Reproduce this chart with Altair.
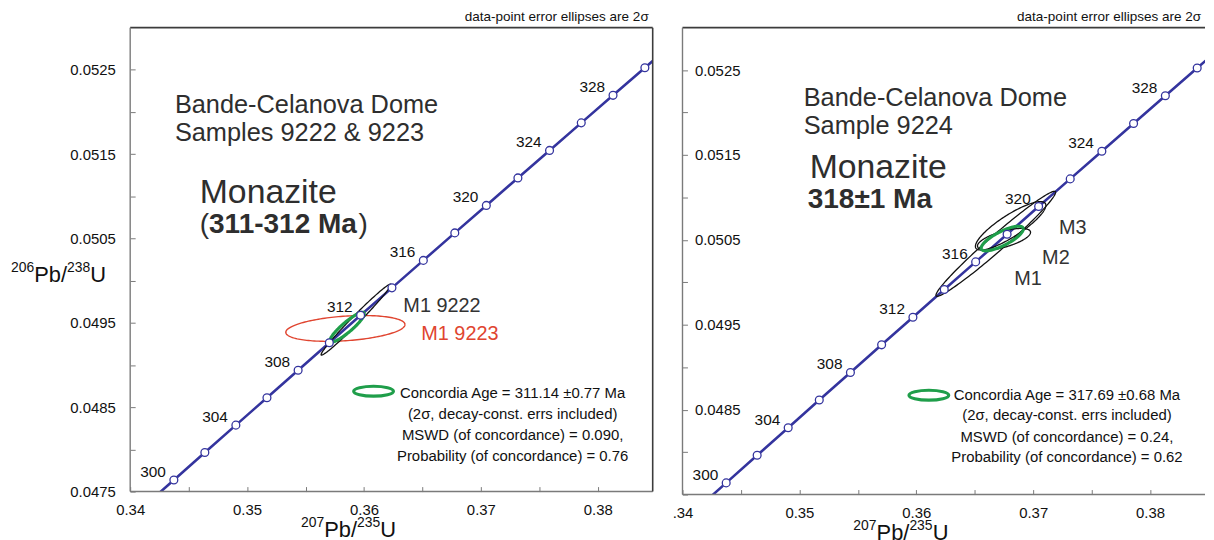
import numpy as np
import pandas as pd
import altair as alt

FONT = "Liberation Sans"
BLUE = "#34349e"
GREEN = "#1f9e4a"
RED = "#e04530"
INK = "#111111"
NOTE = "#2e2e2e"
AXIS = "#7a7a7a"
FRAME = "#3c3c3c"

# Concordia curve, read every 2 Ma (age, 207Pb/235U, 206Pb/238U)
ages = [296, 298, 300, 302, 304, 306, 308, 310, 312, 314, 316, 318, 320, 322, 324, 326, 328, 330, 332, 334]
conc_x = [0.338454, 0.341093, 0.343737, 0.346387, 0.349041, 0.351701, 0.354366, 0.357036, 0.359712, 0.362393,
          0.365079, 0.367770, 0.370467, 0.373169, 0.375876, 0.378589, 0.381307, 0.384031, 0.386760, 0.389493]
conc_y = [0.0469875, 0.0473124, 0.0476374, 0.0479625, 0.0482876, 0.0486130, 0.0489383, 0.0492638, 0.0495894, 0.0499151,
          0.0502408, 0.0505668, 0.0508927, 0.0512186, 0.0515448, 0.0518713, 0.0521977, 0.0525242, 0.0528508, 0.0531775]
label_ages = [300, 304, 308, 312, 316, 320, 324, 328]

x_ticks = [0.34, 0.345, 0.35, 0.355, 0.36, 0.365, 0.37, 0.375, 0.38]
y_ticks = [0.0475, 0.048, 0.0485, 0.049, 0.0495, 0.05, 0.0505, 0.051, 0.0515, 0.052, 0.0525]
X_DOMAIN = [0.34, 0.3847]
Y_DOMAIN = [0.0475, 0.0530]

# Error ellipses (2 sigma): centre, half-width, correlation
left_names = ["M1 9222", "M1 9223", "Concordia age"]
left_cx = [0.359320, 0.358411, 0.358561]
left_ex = [0.002987, 0.005098, 0.001473]
left_cy = [0.049539, 0.049434, 0.049449]
left_ey = [0.000421, 0.000153, 0.000177]
left_rho = [0.987, 0.30, 0.903]

right_names = ["M1", "M2", "M3", "Concordia age"]
right_cx = [0.366800, 0.367504, 0.368073, 0.367353]
right_ex = [0.005118, 0.002271, 0.003014, 0.001798]
right_cy = [0.0504537, 0.0505088, 0.0506658, 0.050516]
right_ey = [0.000618, 0.000126, 0.000285, 0.000145]
right_rho = [0.980, 0.637, 0.848, 0.778]

left_legend = ["Concordia Age = 311.14 \u00b10.77 Ma", "(2\u03c3, decay-const. errs included)",
               "MSWD (of concordance) = 0.090,", "Probability (of concordance) = 0.76"]
right_legend = ["Concordia Age = 317.69 \u00b10.68 Ma", "(2\u03c3, decay-const. errs included)",
                "MSWD (of concordance) = 0.24,", "Probability (of concordance) = 0.62"]

DUMMY = pd.DataFrame({"k": [0]})
ELLIPSE_GLYPH = "M -1 0 A 1 0.25 0 1 0 1 0 A 1 0.25 0 1 0 -1 0 Z"


def ellipse_df(names, cx, ex, cy, ey, rho, n=160):
    t = np.linspace(0.0, 2.0 * np.pi, n + 1)
    frames = []
    for nm, a, sa, b, sb, r in zip(names, cx, ex, cy, ey, rho):
        frames.append(pd.DataFrame({
            "name": nm, "i": np.arange(n + 1),
            "x": a + sa * np.cos(t),
            "y": b + sb * (r * np.cos(t) + np.sqrt(1 - r * r) * np.sin(t)),
        }))
    return pd.concat(frames, ignore_index=True)


def txt(s, x, y, size=15, color=INK, align="left", baseline="middle", weight="normal"):
    return alt.Chart(DUMMY).mark_text(text=s, align=align, baseline=baseline, fontSize=size, font=FONT,
                                      color=color, fontWeight=weight).encode(x=alt.value(x), y=alt.value(y))


def hrule(x1, x2, y, color, w):
    return alt.Chart(DUMMY).mark_rule(color=color, strokeWidth=w).encode(
        x=alt.value(x1), x2=alt.value(x2), y=alt.value(y))


def vrule(x, y1, y2, color, w):
    return alt.Chart(DUMMY).mark_rule(color=color, strokeWidth=w).encode(
        x=alt.value(x), y=alt.value(y1), y2=alt.value(y2))


def panel(W, H, ell, black, red, green, notes, legend_lines, legend_x, legend_y, glyph_x, glyph_y,
          xlabel_expr, ylabel_expr, inside_y, right_frame, y_title, xsup):
    xs = alt.Scale(domain=X_DOMAIN, nice=False, zero=False)
    ys = alt.Scale(domain=Y_DOMAIN, nice=False, zero=False)
    xax = alt.Axis(values=x_ticks, labelExpr=xlabel_expr, title=None, domain=False, grid=False, offset=-5,
                   tickSize=5, tickColor=AXIS, tickWidth=1, labelFont=FONT, labelFontSize=15, labelColor=INK,
                   labelPadding=11, labelFlush=False, labelOverlap=False)
    yax = alt.Axis(values=y_ticks, labelExpr=ylabel_expr,
                   title=None, domain=False, grid=False, offset=-5, tickSize=5, tickColor=AXIS, tickWidth=1,
                   labelFont=FONT, labelFontSize=15, labelColor=INK, labelBaseline="middle",
                   labelAlign="left" if inside_y else "right", labelPadding=-12 if inside_y else 15,
                   labelFlush=False, labelOverlap=False)
    X = alt.X("x:Q", scale=xs, axis=xax)
    Y = alt.Y("y:Q", scale=ys, axis=yax)
    conc = pd.DataFrame({"age": ages, "x": conc_x, "y": conc_y})
    lab = conc[conc["age"].isin(label_ages)]

    layers = [
        alt.Chart(conc).mark_line(clip=True, color=BLUE, strokeWidth=2.6).encode(X, Y, order="age:Q"),
    ]
    for names, col, w in ((red, RED, 1.4), (black, "#111111", 1.3)):
        if names:
            layers.append(alt.Chart(ell[ell["name"].isin(names)]).mark_line(clip=True, color=col, strokeWidth=w)
                          .encode(X, Y, order="i:Q", detail="name:N"))
    layers.append(alt.Chart(ell[ell["name"].isin(green)]).mark_line(clip=True, color=GREEN, strokeWidth=3.2)
                  .encode(X, Y, order="i:Q", detail="name:N"))
    layers.append(alt.Chart(conc).mark_circle(clip=True, fill="white", stroke=BLUE, strokeWidth=1.3, size=62,
                                              opacity=1).encode(X, Y))
    layers.append(alt.Chart(lab).mark_text(align="right", baseline="middle", dx=-8, dy=-8, fontSize=15.5,
                                           font=FONT, color=INK).encode(X, Y, text="age:Q"))
    for n in notes:
        layers.append(txt(*n[:3], **n[3]))
    # concordia-age legend
    layers.append(alt.Chart(DUMMY).mark_point(shape=ELLIPSE_GLYPH, size=1600, filled=False, strokeWidth=3.2,
                                              color=GREEN, opacity=1)
                  .encode(x=alt.value(glyph_x), y=alt.value(glyph_y)))
    for k, line in enumerate(legend_lines):
        layers.append(txt(line, legend_x, legend_y[k], size=15, align="center"))
    # caption above the plot
    layers.append(txt("data-point error ellipses are 2\u03c3", W - 4, -11, size=13.6, align="right"))
    # x axis title 207Pb/235U
    x0 = xsup
    layers += [
        txt("207", x0, H + 35.5, size=14, baseline="alphabetic"),
        txt("Pb/", x0 + 23.4, H + 46, size=22, baseline="alphabetic"),
        txt("235", x0 + 56.4, H + 35.5, size=14, baseline="alphabetic"),
        txt("U", x0 + 79.8, H + 46, size=22, baseline="alphabetic"),
    ]
    if y_title:
        # y axis title 206Pb/238U, written horizontally left of the labels
        yx, yb = y_title
        layers += [
            txt("206", yx, yb - 10, size=14, baseline="alphabetic"),
            txt("Pb/", yx + 23.4, yb, size=22, baseline="alphabetic"),
            txt("238", yx + 56.4, yb - 10, size=14, baseline="alphabetic"),
            txt("U", yx + 79.8, yb, size=22, baseline="alphabetic"),
            # invisible layout anchor (white hairline) fixing the left margin
            hrule(yx - 2.2, yx - 1.7, -10, "white", 0.5),
        ]
    # frame
    layers += [
        hrule(0, W, 0, FRAME, 1.6),
        vrule(0, 0, H, AXIS, 1.4),
        hrule(0, W, H, AXIS, 1.4),
    ]
    if right_frame:
        layers.append(vrule(W, 0, H, FRAME, 1.6))
    return alt.layer(*layers).properties(width=W, height=H)


left_ell = ellipse_df(left_names, left_cx, left_ex, left_cy, left_ey, left_rho)
right_ell = ellipse_df(right_names, right_cx, right_ex, right_cy, right_ey, right_rho)

BIG = 25.5
MON = 34
BOLD = 28.2
left_notes = [
    ("Bande-Celanova Dome", 45, 86, dict(size=BIG, color=NOTE, baseline="alphabetic")),
    ("Samples 9222 & 9223", 45, 114, dict(size=BIG, color=NOTE, baseline="alphabetic")),
    ("Monazite", 70, 176.5, dict(size=MON, color=NOTE, baseline="alphabetic")),
    ("(", 70, 206.5, dict(size=BOLD, color=NOTE, baseline="alphabetic")),
    ("311-312 Ma", 70 + 0.333 * BOLD, 206.5, dict(size=BOLD, color=NOTE, baseline="alphabetic", weight="bold")),
    (")", 70 + 0.333 * BOLD + 5.336 * BOLD, 206.5, dict(size=BOLD, color=NOTE, baseline="alphabetic")),
    ("M1 9222", 275, 286, dict(size=20, color="#333333", baseline="alphabetic")),
    ("M1 9223", 293, 314, dict(size=20, color=RED, baseline="alphabetic")),
]
right_notes = [
    ("Bande-Celanova Dome", 122, 79, dict(size=BIG, color=NOTE, baseline="alphabetic")),
    ("Sample 9224", 122, 107, dict(size=BIG, color=NOTE, baseline="alphabetic")),
    ("Monazite", 128, 151.5, dict(size=MON, color=NOTE, baseline="alphabetic")),
    ("318\u00b11 Ma", 126, 181.5, dict(size=BOLD, color=NOTE, baseline="alphabetic", weight="bold")),
    ("M1", 334, 259.5, dict(size=20, color="#333333", baseline="alphabetic")),
    ("M2", 362, 237.5, dict(size=20, color="#333333", baseline="alphabetic")),
    ("M3", 379, 207.5, dict(size=20, color="#333333", baseline="alphabetic")),
]

XL = "round(datum.value*200) % 2 == 0 ? format(datum.value, '.2f') : ''"
XR = "round(datum.value*200) == 68 ? '.34' : (round(datum.value*200) % 2 == 0 ? format(datum.value, '.2f') : '')"
YL = "round(datum.value*2000) % 2 == 1 ? format(datum.value, '.4f') : ''"
YR = "(round(datum.value*2000) % 2 == 1 && round(datum.value*2000) > 95) ? format(datum.value, '.4f') : ''"

left = panel(526, 467, left_ell, ["M1 9222"], ["M1 9223"], ["Concordia age"], left_notes, left_legend,
             385, [368, 389, 410, 431], 245, 366, XL, YL, False, True, (-120, 256), 172)
right = panel(526, 470, right_ell, ["M1", "M2", "M3"], [], ["Concordia age"], right_notes, right_legend,
              387, [370, 390, 412, 432], 248, 370, XR, YR, True, False, None, 172)

chart = alt.hconcat(left, right, spacing=30, bounds="flush").properties(padding=0).configure_view(stroke=None)

chart.save("out.html", embed_options={"renderer": "svg", "actions": False})
